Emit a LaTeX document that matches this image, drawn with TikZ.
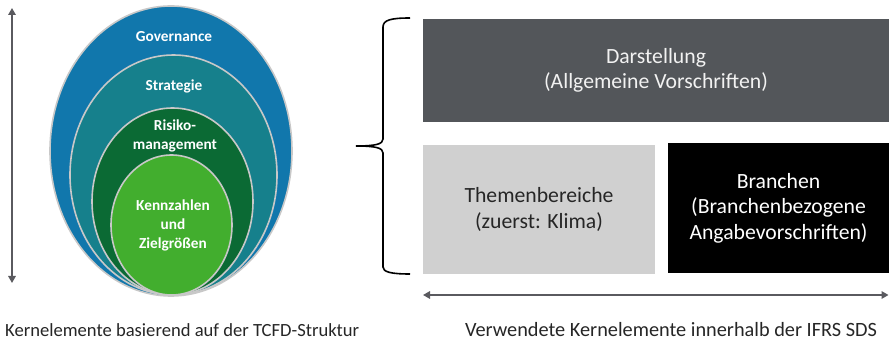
\documentclass[tikz,border=0pt]{standalone}
\usepackage{fontspec}
\setmainfont{Carlito}
\usetikzlibrary{shapes.geometric,arrows.meta}
\definecolor{govblue}{RGB}{17,119,172}
\definecolor{strteal}{RGB}{22,128,140}
\definecolor{riskgreen}{RGB}{11,106,52}
\definecolor{kpigreen}{RGB}{66,174,46}
\definecolor{rimgray}{RGB}{200,200,200}
\definecolor{darkbox}{RGB}{83,86,90}
\definecolor{lightbox}{RGB}{208,208,208}
\definecolor{arrowgray}{RGB}{90,90,95}
\definecolor{boxtext}{RGB}{242,242,242}
\definecolor{darktext}{RGB}{38,38,38}
\tikzset{
  ring/.style={ellipse, draw=rimgray, line width=1.6pt, inner sep=0pt},
  ringtext/.style={text=white, font=\bfseries\fontsize{15.3}{19}\selectfont, align=center, inner sep=0pt},
  boxnode/.style={rectangle, draw=none, inner sep=0pt, align=center, font=\fontsize{21.7}{25.5}\selectfont},
  dblarrow/.style={draw=arrowgray, line width=1.6pt, {Triangle[width=7.5pt,length=7pt]}-{Triangle[width=7.5pt,length=7pt]}},
  caption/.style={text=darktext, inner sep=0pt},
  bracepath/.style={draw=black, line width=1.6pt}
}
\begin{document}
\begin{tikzpicture}[x=1pt,y=1pt]
\useasboundingbox (0,0) rectangle (889,340);
% nested ellipses
\node[ring, fill=govblue, minimum width=242pt, minimum height=290pt] (gov) at (171,189) {};
\node[ring, fill=strteal, minimum width=207pt, minimum height=240pt] (str) at (173.5,165) {};
\node[ring, fill=riskgreen, minimum width=161pt, minimum height=187pt] (risk) at (172.5,138.5) {};
\node[ring, fill=kpigreen, minimum width=121pt, minimum height=140pt] (kpi) at (171.5,115) {};
\node[ringtext] (govt) at (174,303) {Governance};
\node[ringtext] (strt) at (174,254) {Strategie};
\node[ringtext] (riskt) at (175,204) {Risiko-\\management};
\node[ringtext] (kpit) at (173,115) {Kennzahlen\\und\\Zielgrößen};
% vertical arrow
\coordinate (va1) at (12,332);
\coordinate (va2) at (12,57);
\draw[dblarrow] (va1) -- (va2);
% brace
\coordinate (bt) at (410,322);
\coordinate (bm) at (356,194);
\coordinate (bb) at (410,66);
\draw[bracepath] (bt) .. controls (391,322) and (383,320) .. (383,313) -- (383,201)
  .. controls (383,196) and (376,194) .. (bm)
  .. controls (376,194) and (383,192) .. (383,187) -- (383,73)
  .. controls (383,68) and (391,66) .. (bb);
% boxes
\node[boxnode, fill=darkbox, text=boxtext, minimum width=466pt, minimum height=103pt] (dar) at (656,269.5) {Darstellung\\(Allgemeine Vorschriften)};
\node[boxnode, fill=lightbox, text=darktext, minimum width=232pt, minimum height=129pt] (them) at (539,130.5) {Themenbereiche\\(zuerst: Klima)};
\node[boxnode, fill=black, text=white, minimum width=221pt, minimum height=130pt] (bran) at (778.5,132) {Branchen\\(Branchenbezogene\\Angabevorschriften)};
% horizontal arrow
\coordinate (ha1) at (423,45);
\coordinate (ha2) at (888.5,45);
\draw[dblarrow] (ha1) -- (ha2);
% captions
\node[caption, anchor=base west, font=\fontsize{18.6}{22}\selectfont] (cap1) at (5,3.5) {Kernelemente basierend auf der TCFD-Struktur};
\node[caption, anchor=base, font=\fontsize{20.3}{24}\selectfont] (cap2) at (671,3.5) {Verwendete Kernelemente innerhalb der IFRS SDS};
\end{tikzpicture}
\end{document}
